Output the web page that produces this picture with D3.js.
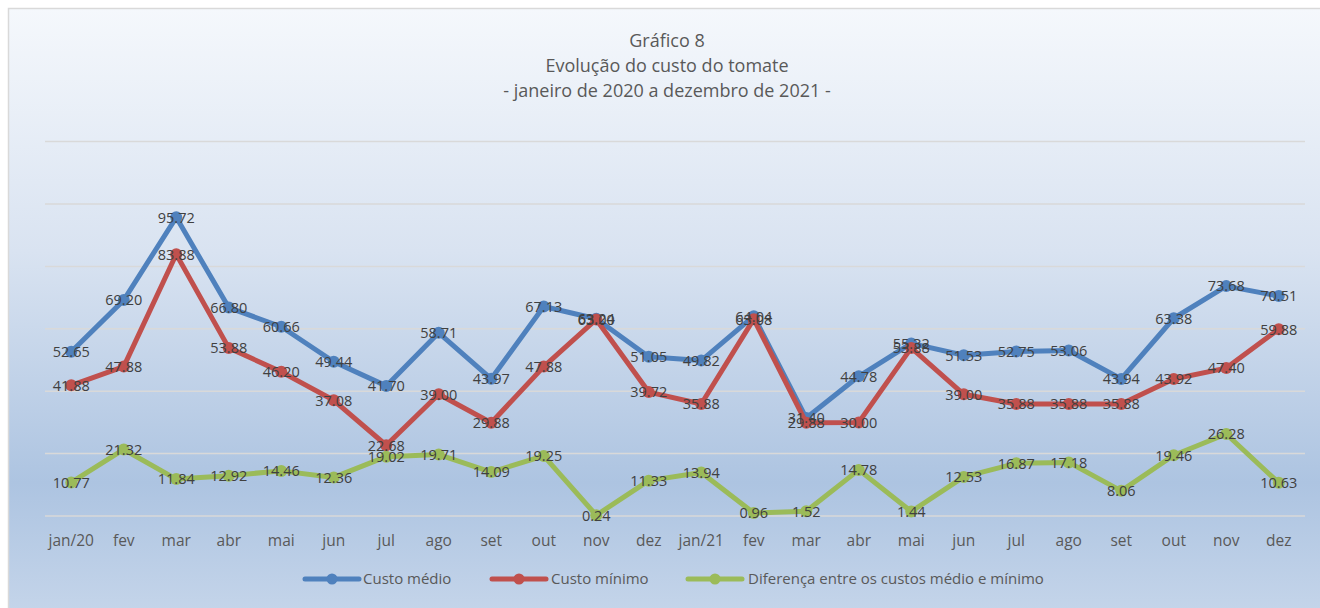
<!DOCTYPE html>
<html>
<head>
<meta charset="utf-8">
<script src="https://cdn.jsdelivr.net/npm/d3@7"></script>
<style>
  html, body { margin: 0; padding: 0; background: #ffffff; }
  svg { display: block; }
</style>
</head>
<body>
<svg id="chart" width="1320" height="608"></svg>
<script>
const categories = ["jan/20","fev","mar","abr","mai","jun","jul","ago","set","out","nov","dez",
                    "jan/21","fev","mar","abr","mai","jun","jul","ago","set","out","nov","dez"];
const custoMedio = [52.65,69.20,95.72,66.80,60.66,49.44,41.70,58.71,43.97,67.13,63.24,51.05,
                    49.82,64.04,31.40,44.78,55.32,51.53,52.75,53.06,43.94,63.38,73.68,70.51];
const custoMinimo = [41.88,47.88,83.88,53.88,46.20,37.08,22.68,39.00,29.88,47.88,63.00,39.72,
                     35.88,63.08,29.88,30.00,53.88,39.00,35.88,35.88,35.88,43.92,47.40,59.88];
const diferenca = [10.77,21.32,11.84,12.92,14.46,12.36,19.02,19.71,14.09,19.25,0.24,11.33,
                   13.94,0.96,1.52,14.78,1.44,12.53,16.87,17.18,8.06,19.46,26.28,10.63];
const yTicks = [0,20,40,60,80,100,120];
const titleLines = ["Gráfico 8","Evolução do custo do tomate","- janeiro de 2020 a dezembro de 2021 -"];
const seriesNames = ["Custo médio","Custo mínimo","Diferença entre os custos médio e mínimo"];
const seriesColors = ["#4f81bd","#c0504d","#9bbb59"];

const svg = d3.select("#chart");
const W = 1320, H = 608;
const font = "'Open Sans', 'Noto Sans', sans-serif";

// background gradient
const defs = svg.append("defs");
const grad = defs.append("linearGradient").attr("id","bg").attr("x1",0).attr("y1",0).attr("x2",0).attr("y2",1);
grad.append("stop").attr("offset","0%").attr("stop-color","#f5f8fc");
grad.append("stop").attr("offset","40%").attr("stop-color","#d9e3f1");
grad.append("stop").attr("offset","78%").attr("stop-color","#adc4e1");
grad.append("stop").attr("offset","100%").attr("stop-color","#c5d5ea");

svg.append("rect").attr("x",8.5).attr("y",8.5).attr("width",W).attr("height",H)
  .attr("fill","url(#bg)").attr("stroke","#d9d9d9").attr("stroke-width",1.5);

const plot = {left: 45, right: 1305, top: 141.6, bottom: 516};

const x = d3.scaleBand().domain(d3.range(categories.length)).range([plot.left, plot.right]);
const y = d3.scaleLinear().domain([0,120]).range([plot.bottom, plot.top]);

// gridlines
svg.append("g").selectAll("line").data(yTicks).join("line")
  .attr("x1",plot.left).attr("x2",plot.right)
  .attr("y1",d=>y(d)).attr("y2",d=>y(d))
  .attr("stroke","#d9d9d9").attr("stroke-width",1.5);

// x axis
const xAxis = d3.axisBottom(x).tickSize(0).tickFormat(i=>categories[i]);
const gx = svg.append("g").attr("transform",`translate(0,${plot.bottom})`).call(xAxis);
gx.select(".domain").remove();
gx.selectAll("text").attr("dy",null).attr("y",26).attr("dominant-baseline","middle")
  .attr("font-family",font).attr("font-size",15.5).attr("fill","#595959");

// title
svg.append("g").selectAll("text").data(titleLines).join("text")
  .attr("x",667).attr("y",(d,i)=>42.5+i*25).attr("text-anchor","middle").attr("dominant-baseline","middle")
  .attr("font-family",font).attr("font-size",18).attr("fill","#595959").text(d=>d);

const allSeries = [custoMedio, custoMinimo, diferenca];
const cx = i => x(i) + x.bandwidth()/2;
const line = d3.line().x((d,i)=>cx(i)).y(d=>y(d));

allSeries.forEach((vals, s) => {
  const g = svg.append("g");
  g.append("path").datum(vals).attr("d",line).attr("fill","none")
    .attr("stroke",seriesColors[s]).attr("stroke-width",5).attr("stroke-linejoin","round");
  g.selectAll("circle").data(vals).join("circle")
    .attr("cx",(d,i)=>cx(i)).attr("cy",d=>y(d)).attr("r",6).attr("fill",seriesColors[s]);
});

// labels drawn on top
allSeries.forEach((vals, s) => {
  svg.append("g").selectAll("text").data(vals).join("text")
    .attr("x",(d,i)=>cx(i)).attr("y",d=>y(d)+1.5).attr("text-anchor","middle").attr("dominant-baseline","middle")
    .attr("font-family",font).attr("font-size",14.5).attr("fill","#404040")
    .text(d=>d.toFixed(2));
});

// legend
const legendItems = [
  {x0:305, tx:363},
  {x0:492, tx:551},
  {x0:688, tx:748}
];
const lg = svg.append("g");
legendItems.forEach((it, s) => {
  lg.append("line").attr("x1",it.x0).attr("x2",it.x0+54).attr("y1",579).attr("y2",579)
    .attr("stroke",seriesColors[s]).attr("stroke-width",5).attr("stroke-linecap","round");
  lg.append("circle").attr("cx",it.x0+27).attr("cy",579).attr("r",5.5).attr("fill",seriesColors[s]);
  lg.append("text").attr("x",it.tx).attr("y",579.5).attr("dominant-baseline","middle")
    .attr("font-family",font).attr("font-size",15).attr("fill","#595959").text(seriesNames[s]);
});
</script>
</body>
</html>
